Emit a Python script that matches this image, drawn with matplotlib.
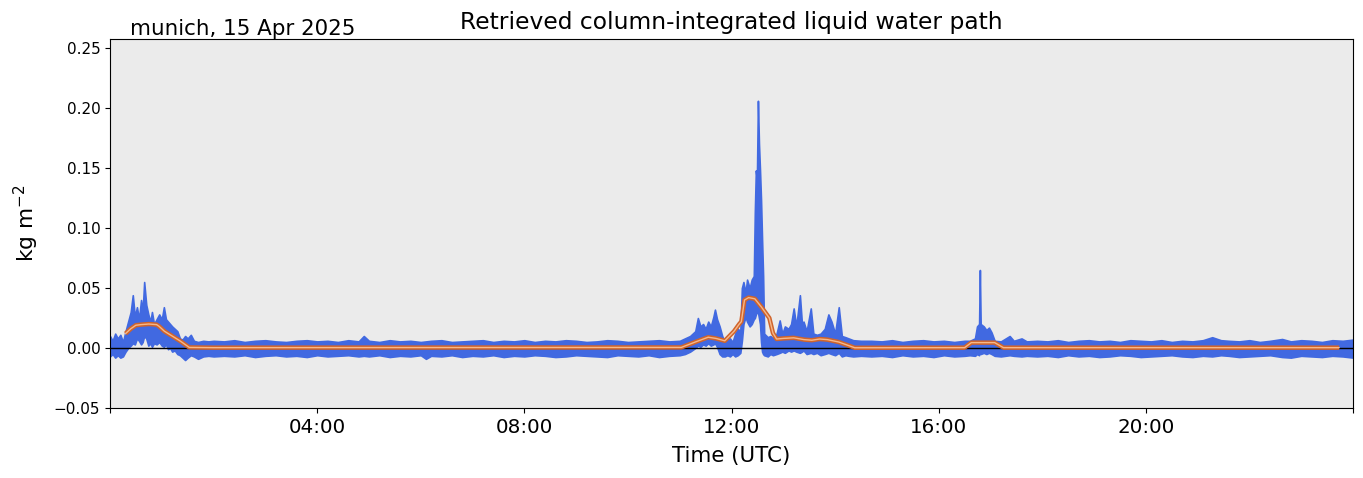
import matplotlib
matplotlib.use("Agg")
import matplotlib.pyplot as plt
import numpy as np

# observed LWP envelope (hours UTC, upper / lower edge of the point cloud, kg m-2)
t_a  = [0.00, 0.05, 0.10, 0.15, 0.20, 0.25, 0.30, 0.35, 0.40, 0.44, 0.48, 0.52, 0.56, 0.60, 0.63, 0.66,
        0.70, 0.74, 0.78, 0.81, 0.85, 0.90, 0.95, 1.00, 1.04, 1.08, 1.12, 1.16, 1.20, 1.25, 1.30, 1.35,
        1.40, 1.45, 1.50, 1.56, 1.62, 1.70, 1.80, 1.90, 2.00]
hi_a = [0.010, 0.006, 0.012, 0.008, 0.011, 0.005, 0.014, 0.022, 0.030, 0.044, 0.026, 0.034, 0.024, 0.040, 0.030, 0.055,
        0.036, 0.028, 0.022, 0.030, 0.020, 0.024, 0.028, 0.024, 0.034, 0.024, 0.022, 0.020, 0.018, 0.016, 0.014, 0.008,
        0.007, 0.010, 0.008, 0.011, 0.006, 0.005, 0.006, 0.0055, 0.006]
lo_a = [-0.007, -0.005, -0.008, -0.006, -0.008, -0.007, -0.003, 0.000, 0.002, 0.004, 0.003, 0.008, 0.006, 0.003, 0.005, 0.010,
        0.008, 0.002, 0.004, 0.001, 0.004, 0.003, 0.005, 0.002, 0.001, 0.003, -0.001, 0.000, -0.003, -0.002, -0.005, -0.006,
        -0.008, -0.010, -0.008, -0.006, -0.007, -0.009, -0.007, -0.0065, -0.007]

t_b  = [2.2, 2.4, 2.6, 2.8, 3.0, 3.2, 3.4, 3.6, 3.8, 4.0, 4.2, 4.4, 4.6, 4.8, 4.9, 5.0, 5.2, 5.4, 5.6, 5.8, 6.0, 6.1,
        6.2, 6.4, 6.6, 6.8, 7.0, 7.2, 7.4, 7.6, 7.8, 8.0, 8.2, 8.4, 8.6, 8.8, 9.0, 9.2, 9.4, 9.6, 9.8, 10.0, 10.2,
        10.4, 10.6, 10.8]
hi_b = [0.0055, 0.0065, 0.005, 0.006, 0.0065, 0.0055, 0.005, 0.006, 0.0065, 0.0055, 0.006, 0.005, 0.0065, 0.0055,
        0.010, 0.006, 0.005, 0.0065, 0.0055, 0.006, 0.005, 0.0055,
        0.006, 0.0065, 0.005, 0.0055, 0.006, 0.0065, 0.005, 0.006, 0.0055, 0.0065, 0.005, 0.006, 0.0055, 0.0065,
        0.006, 0.005, 0.0055, 0.0065, 0.006, 0.005, 0.0055, 0.006, 0.0065, 0.0055]
lo_b = [-0.0065, -0.007, -0.006, -0.0075, -0.0065, -0.006, -0.007, -0.0065, -0.0075, -0.006, -0.007, -0.0065, -0.006, -0.007,
        -0.0065, -0.007, -0.006, -0.0075, -0.0065, -0.007, -0.006, -0.009,
        -0.0065, -0.007, -0.006, -0.0075, -0.0065, -0.007, -0.006, -0.0075, -0.0065, -0.007, -0.006, -0.0065, -0.0075, -0.007,
        -0.006, -0.0065, -0.007, -0.0075, -0.006, -0.0065, -0.007, -0.006, -0.0075, -0.0065]

t_c  = [11.00, 11.10, 11.20, 11.30, 11.35, 11.40, 11.45, 11.50, 11.55, 11.60, 11.65, 11.68, 11.72, 11.77, 11.82, 11.87,
        11.92, 11.97, 12.02, 12.07, 12.12, 12.17, 12.20, 12.23, 12.27, 12.30, 12.35, 12.39, 12.43, 12.45, 12.47, 12.49,
        12.51, 12.53, 12.55, 12.57, 12.59, 12.61, 12.63, 12.70, 12.75, 12.80, 12.87, 12.93, 12.98, 13.03, 13.10, 13.15,
        13.20, 13.25, 13.32, 13.36, 13.39, 13.45, 13.53, 13.58, 13.65, 13.72, 13.80, 13.87, 13.93, 14.00, 14.07, 14.13,
        14.20, 14.26, 14.35, 14.50]
hi_c = [0.006, 0.008, 0.010, 0.014, 0.025, 0.018, 0.020, 0.016, 0.022, 0.018, 0.026, 0.032, 0.024, 0.018, 0.010, 0.005,
        0.007, 0.008, 0.005, 0.012, 0.016, 0.014, 0.050, 0.055, 0.046, 0.057, 0.050, 0.057, 0.060, 0.113, 0.148, 0.140,
        0.206, 0.170, 0.148, 0.123, 0.090, 0.060, 0.012, 0.009, 0.010, 0.008, 0.012, 0.023, 0.012, 0.018, 0.016, 0.020,
        0.033, 0.018, 0.044, 0.020, 0.022, 0.014, 0.033, 0.012, 0.011, 0.012, 0.016, 0.028, 0.022, 0.012, 0.034, 0.010,
        0.009, 0.008, 0.0065, 0.006]
lo_c = [-0.006, -0.005, -0.003, 0.000, 0.002, 0.001, 0.003, 0.002, 0.004, 0.002, 0.003, 0.004, 0.001, -0.005, -0.007, -0.007,
        -0.006, -0.007, -0.005, -0.007, -0.006, -0.004, 0.006, 0.020, 0.026, 0.022, 0.018, 0.020, 0.024, 0.025, 0.028, 0.030,
        0.030, 0.025, 0.020, 0.005, -0.003, -0.005, -0.006, -0.007, -0.005, -0.006, -0.005, -0.004, -0.003, -0.004, -0.002, -0.003,
        -0.002, -0.003, -0.004, -0.003, -0.002, -0.005, -0.004, -0.005, -0.004, -0.006, -0.005, -0.004, -0.005, -0.006, -0.004, -0.007,
        -0.006, -0.0065, -0.007, -0.0065]

t_d  = [14.7, 14.9, 15.1, 15.3, 15.5, 15.7, 15.9, 16.1, 16.3, 16.5, 16.60, 16.70, 16.74, 16.78, 16.795, 16.81,
        16.87, 16.92, 16.97, 17.02, 17.08, 17.20, 17.37, 17.45, 17.60, 17.70]
hi_d = [0.006, 0.0055, 0.0065, 0.005, 0.006, 0.0065, 0.0055, 0.006, 0.005, 0.006, 0.006, 0.008, 0.018, 0.020, 0.065, 0.020,
        0.018, 0.015, 0.017, 0.013, 0.006, 0.0055, 0.010, 0.006, 0.008, 0.0055]
lo_d = [-0.007, -0.0065, -0.0075, -0.006, -0.007, -0.0065, -0.0075, -0.006, -0.007, -0.0065, -0.006, -0.0065, -0.005, -0.006,
        -0.002, -0.005, -0.004, -0.005, -0.004, -0.005, -0.0065, -0.007, -0.006, -0.0065, -0.007, -0.0065]

t_e  = [17.9, 18.1, 18.3, 18.5, 18.7, 18.9, 19.1, 19.3, 19.5, 19.7, 19.9, 20.1, 20.3, 20.5, 20.7, 20.9, 21.1, 21.28,
        21.45, 21.6, 21.8, 22.0, 22.2, 22.4, 22.63, 22.8, 23.0, 23.2, 23.4, 23.6, 23.8, 24.0]
hi_e = [0.006, 0.0055, 0.0065, 0.005, 0.006, 0.0065, 0.0055, 0.006, 0.005, 0.0065, 0.006, 0.0055, 0.0065, 0.005, 0.006,
        0.0055, 0.0065, 0.009, 0.0065, 0.006, 0.0055, 0.0065, 0.005, 0.006, 0.0075, 0.0055, 0.0065, 0.006, 0.005, 0.0065,
        0.006, 0.007]
lo_e = [-0.007, -0.0065, -0.0075, -0.006, -0.007, -0.0065, -0.0075, -0.007, -0.006, -0.0065, -0.0075, -0.007, -0.0065,
        -0.006, -0.007, -0.0075, -0.0065, -0.007, -0.006, -0.0065, -0.0075, -0.007, -0.0065, -0.006, -0.0075, -0.008,
        -0.0065, -0.007, -0.0075, -0.0065, -0.007, -0.008]

# smoothed LWP (rolling mean)
t_smooth = [0.30, 0.40, 0.50, 0.60, 0.75, 0.90, 0.95, 1.05, 1.20, 1.35, 1.53, 2.00, 11.03, 11.30, 11.55, 11.70,
            11.87, 12.05, 12.15, 12.19, 12.25, 12.33, 12.45, 12.58, 12.73, 12.80, 12.87, 13.00, 13.20, 13.40, 13.55,
            13.70, 13.85, 14.07, 14.38, 16.50, 16.63, 17.08, 17.25, 23.73]
v_smooth = [0.012, 0.016, 0.019, 0.0195, 0.020, 0.0195, 0.018, 0.014, 0.010, 0.006, 0.0005, 0.0003, 0.0005, 0.005, 0.009, 0.008,
            0.006, 0.014, 0.020, 0.022, 0.040, 0.042, 0.041, 0.034, 0.025, 0.0125, 0.0075, 0.008, 0.0085, 0.007, 0.0065,
            0.0075, 0.007, 0.005, 0.0002, 0.0003, 0.0045, 0.0045, 0.0003, 0.0003]

t_obs = np.array(t_a + t_b + t_c + t_d + t_e)
hi_obs = np.array(hi_a + hi_b + hi_c + hi_d + hi_e)
lo_obs = np.array(lo_a + lo_b + lo_c + lo_d + lo_e)

fig = plt.figure(figsize=(13.63, 4.78), dpi=100)
ax = fig.add_axes([0.0807, 0.1464, 0.912, 0.772])
ax.set_facecolor('#ebebeb')

ax.fill_between(t_obs, lo_obs, hi_obs, color='royalblue', lw=1.2, edgecolor='royalblue', zorder=2)
ax.axhline(0, color='black', lw=1, zorder=2.5)
ax.plot(t_smooth, v_smooth, color='#d0642c', lw=3.2, zorder=3, solid_capstyle='butt')
ax.plot(t_smooth, v_smooth, color='#f6b88a', lw=1.0, zorder=4)

ax.set_xlim(0, 24)
ax.set_ylim(-0.05, 0.2575)
ax.set_xticks([0, 4, 8, 12, 16, 20, 24])
ax.set_xticklabels(['', '04:00', '08:00', '12:00', '16:00', '20:00', ''], fontsize=14.3)
ax.set_yticks([-0.05, 0.0, 0.05, 0.10, 0.15, 0.20, 0.25])
ax.set_yticklabels(['\u22120.05', '0.00', '0.05', '0.10', '0.15', '0.20', '0.25'], fontsize=11)
ax.set_xlabel('Time (UTC)', fontsize=15.4, labelpad=7)
ax.set_ylabel('kg m$^{-2}$', fontsize=15.6, labelpad=9)
ax.set_title('Retrieved column-integrated liquid water path', fontsize=16.8, pad=7)
ax.text(0.016, 1.0, 'munich, 15 Apr 2025', transform=ax.transAxes, fontsize=15.4, ha='left', va='bottom')

fig.savefig('out.png', dpi=100)
